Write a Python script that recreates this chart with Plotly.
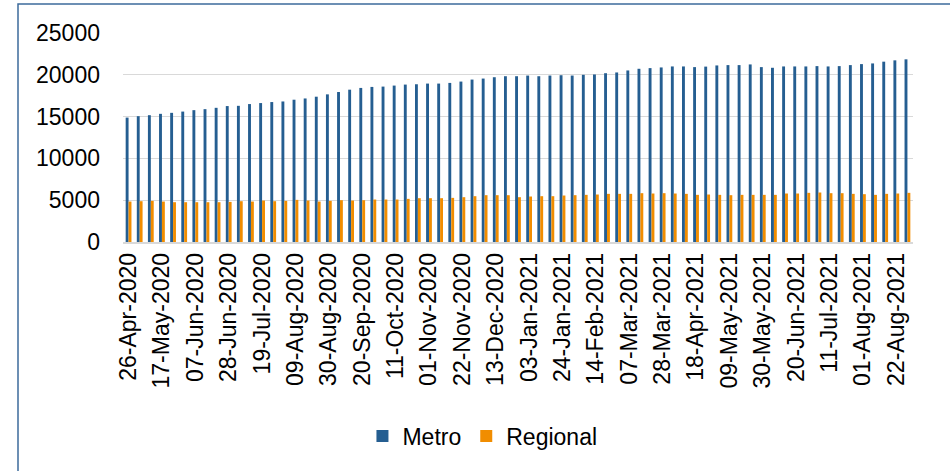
import pandas as pd
import plotly.graph_objects as go

# Weekly categories
week_dates = pd.date_range("2020-04-26", periods=71, freq="7D")
categories = [d.strftime("%d-%b-%Y") for d in week_dates]
tick_labels = categories[::3]

y_ticks = [0, 5000, 10000, 15000, 20000, 25000]
y_tick_labels = ["0", "5000", "10000", "15000", "20000", "25000"]

metro = [14880, 15050, 15170, 15330, 15450, 15600, 15770, 15890, 16050, 16260,
         16290, 16500, 16620, 16740, 16810, 17020, 17170, 17380,
         17660, 17940, 18220, 18430, 18550, 18590, 18710, 18830, 18870, 18950,
         18950, 19030, 19190, 19430, 19550, 19710, 19830,
         19830, 19910, 19830, 19910, 19950, 19910, 20000, 20040, 20190, 20280,
         20520, 20720, 20800, 20880, 21000, 21000, 20920, 20980,
         21120, 21160, 21160, 21240, 20920, 20840, 21000, 21000, 21000, 21040,
         21000, 21040, 21160, 21280, 21360, 21570, 21730, 21850]

regional = [4840, 4880, 4920, 4840, 4760, 4760, 4760, 4760, 4760, 4800,
            4880, 4840, 4960, 4880, 4920, 5040, 4960, 4840, 4920, 5000,
            4960, 5000, 5080, 5080, 5080, 5160, 5240, 5240, 5240, 5280,
            5360, 5480, 5600, 5600, 5600,
            5360, 5440, 5480, 5480, 5560, 5600, 5640, 5680, 5760, 5760,
            5760, 5840, 5800, 5840, 5800, 5760, 5640, 5680, 5640, 5600,
            5640, 5640, 5640, 5640, 5800, 5800, 5880, 5920, 5840, 5840,
            5760, 5720, 5640, 5760, 5800, 5880]

series_names = ["Metro", "Regional"]
colors = ["#255E91", "#F18D00"]

fig = go.Figure()
for name, vals, col in zip(series_names, [metro, regional], colors):
    fig.add_trace(go.Bar(x=categories, y=vals, name=name,
                         marker=dict(color=col, line=dict(width=0))))

FONT = "Liberation Sans, Arial, sans-serif"
fig.update_layout(
    width=950, height=471,
    margin=dict(l=123, r=37, t=33, b=229, autoexpand=False),
    paper_bgcolor="white", plot_bgcolor="white",
    barmode="group", bargap=0.48, bargroupgap=0.0,
    font=dict(family=FONT, size=23, color="#000000"),
    showlegend=True,
    legend=dict(orientation="h", x=0.455, xanchor="center", y=-0.928,
                yanchor="middle", font=dict(size=23), bgcolor="rgba(0,0,0,0)",
                itemwidth=30, tracegroupgap=0),
    xaxis=dict(type="category", tickmode="array", tickvals=tick_labels,
               ticktext=tick_labels, tickangle=-90, showgrid=False,
               showline=True, linecolor="#D9D9D9", linewidth=1.5,
               ticks="", tickfont=dict(size=23), automargin=False),
    yaxis=dict(range=[0, 25000], tickmode="array", tickvals=y_ticks,
               ticktext=y_tick_labels,
               showgrid=True, gridcolor="#D9D9D9", gridwidth=1.3,
               zeroline=False, showline=False, ticks="", ticklabelstandoff=22,
               tickfont=dict(size=23), automargin=False),
    shapes=[dict(type="rect", xref="paper", yref="paper",
                 x0=-105 / 790, x1=(960 - 123) / 790,
                 y0=(242 - 480) / 209, y1=(242 - 4) / 209,
                 line=dict(color="#3D6B9C", width=1.5), fillcolor="rgba(0,0,0,0)",
                 layer="above")],
)

fig.write_html("out.html",
               config={"displayModeBar": False},
               post_script="document.body.style.margin='0';document.body.style.overflow='hidden';")
